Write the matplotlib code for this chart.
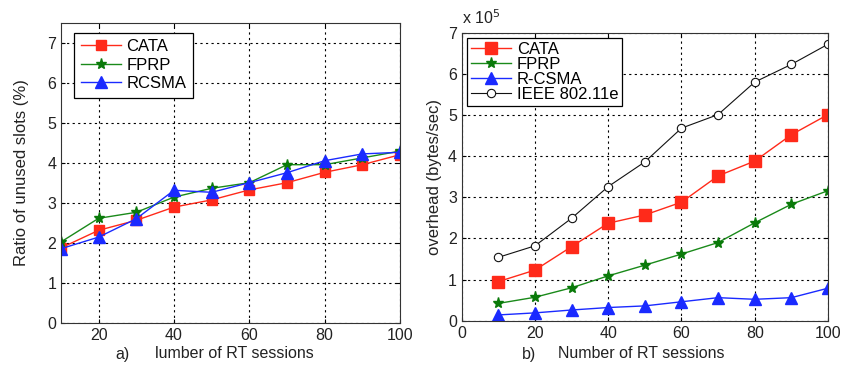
import matplotlib
matplotlib.use("Agg")
import matplotlib.pyplot as plt
from matplotlib.ticker import ScalarFormatter

plt.rcParams['font.family'] = ['Liberation Sans', 'DejaVu Sans']

x = [10, 20, 30, 40, 50, 60, 70, 80, 90, 100]

# (a) ratio of unused slots (%)
a_cata = [1.87, 2.31, 2.56, 2.89, 3.07, 3.32, 3.50, 3.76, 3.95, 4.20]
a_fprp = [2.02, 2.61, 2.76, 3.14, 3.36, 3.50, 3.95, 3.95, 4.12, 4.29]
a_rcsma = [1.85, 2.14, 2.60, 3.31, 3.26, 3.50, 3.75, 4.05, 4.22, 4.26]

# (b) overhead (bytes/sec), in units of 1e5
b_cata = [0.95, 1.23, 1.80, 2.37, 2.57, 2.88, 3.52, 3.88, 4.52, 5.01]
b_fprp = [0.42, 0.57, 0.80, 1.09, 1.35, 1.62, 1.90, 2.38, 2.83, 3.16]
b_rcsma = [0.14, 0.19, 0.26, 0.32, 0.36, 0.46, 0.56, 0.52, 0.56, 0.79]
b_ieee = [1.54, 1.82, 2.49, 3.26, 3.86, 4.68, 5.01, 5.80, 6.23, 6.72]
scale = 1e5

fig = plt.figure(figsize=(8.42, 3.67), dpi=100)
ax1 = fig.add_axes([61/842, 1-322.7/367, (400-61)/842, 300/367])
ax2 = fig.add_axes([461.7/842, 1-320.7/367, (828-461.7)/842, 288/367])

tc = '#222222'
fs = 11.5
lfs = 12

def style(ax):
    ax.grid(True, color='black', linestyle=(0, (2, 3)), linewidth=0.8)
    ax.tick_params(direction='in', length=3, top=True, right=True,
                   labelsize=fs, colors='black', labelcolor=tc, width=0.8)
    for s in ax.spines.values():
        s.set_linewidth(0.8)
        s.set_color('#333333')

ax1.plot(x, a_cata, color='#ff2a1a', marker='s', markersize=7, linewidth=1,
         markeredgecolor='#ff2a1a', label='CATA')
ax1.plot(x, a_fprp, color='#1a8a1a', marker='*', markersize=8, linewidth=1,
         markerfacecolor='#0a7a0a', markeredgecolor='#0a7a0a', label='FPRP')
ax1.plot(x, a_rcsma, color='#1a2aff', marker='^', markersize=8, linewidth=1,
         label='RCSMA')
ax1.set_xlim(10, 100)
ax1.set_ylim(0, 7.5)
ax1.set_xticks([20, 40, 60, 80, 100])
ax1.set_yticks([0, 1, 2, 3, 4, 5, 6, 7])
style(ax1)
ax1.set_ylabel('Ratio of unused slots (%)', fontsize=lfs, color=tc, labelpad=13)
leg1 = ax1.legend(loc='upper left', bbox_to_anchor=(0.038, 0.967), fontsize=lfs,
                  fancybox=False, edgecolor='black', framealpha=1, borderaxespad=0,
                  handlelength=2.4, handletextpad=0.35, borderpad=0.4,
                  labelspacing=0.2)
leg1.get_frame().set_linewidth(0.9)

ax2.plot(x, [v*scale for v in b_cata], color='#ff2a1a', marker='s', markersize=8,
         linewidth=1, label='CATA')
ax2.plot(x, [v*scale for v in b_fprp], color='#1a8a1a', marker='*', markersize=8,
         linewidth=1, markerfacecolor='#0a7a0a', markeredgecolor='#0a7a0a', label='FPRP')
ax2.plot(x, [v*scale for v in b_rcsma], color='#1a2aff', marker='^', markersize=8,
         linewidth=1, label='R-CSMA')
ax2.plot(x, [v*scale for v in b_ieee], color='#111111', marker='o', markersize=6,
         markerfacecolor='white', markeredgecolor='#111111', markeredgewidth=0.8,
         linewidth=0.8, label='IEEE 802.11e')
ax2.set_xlim(0, 100)
ax2.set_ylim(0, 7e5)
ax2.set_xticks([0, 20, 40, 60, 80, 100])
ax2.set_yticks([i*1e5 for i in range(8)])
fmt = ScalarFormatter(useMathText=False)
fmt.set_powerlimits((0, 0))
ax2.yaxis.set_major_formatter(fmt)
ax2.yaxis.get_offset_text().set_visible(False)
style(ax2)
fig.text(462/842, 1-18/367, r'x 10$^{5}$', fontsize=fs, color=tc, va='center', ha='left')
ax2.set_ylabel('overhead (bytes/sec)', fontsize=lfs, color=tc, labelpad=4)
leg2 = ax2.legend(loc='upper left', bbox_to_anchor=(0.0137, 0.983), fontsize=lfs,
                  fancybox=False, edgecolor='black', framealpha=1, borderaxespad=0,
                  handlelength=2.4, handletextpad=0.35, borderpad=0.25,
                  labelspacing=0.0)
leg2.get_frame().set_linewidth(0.9)

fig.text(115/842, 1-354/367, 'a)', fontsize=lfs-0.5, color=tc, va='center', ha='left')
fig.text(155/842, 1-354/367, 'lumber of RT sessions', fontsize=lfs-0.5, color=tc, va='center', ha='left')
fig.text(522/842, 1-354/367, 'b)', fontsize=lfs-0.5, color=tc, va='center', ha='left')
fig.text(558/842, 1-354/367, 'Number of RT sessions', fontsize=lfs-0.5, color=tc, va='center', ha='left')

fig.savefig('out.png', dpi=100)
